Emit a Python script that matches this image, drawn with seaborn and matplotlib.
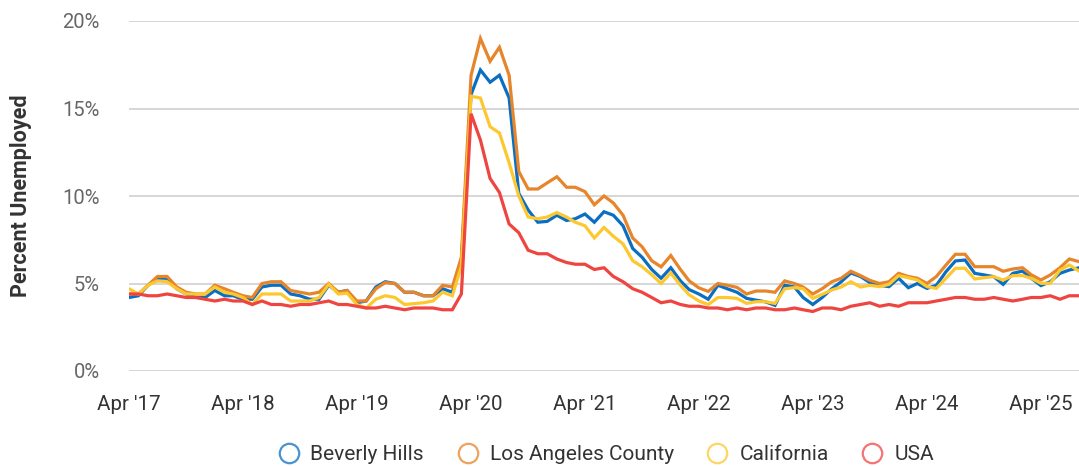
import pandas as pd
import numpy as np
import matplotlib
matplotlib.use("Agg")
import matplotlib.pyplot as plt
import matplotlib.dates as mdates
from matplotlib.lines import Line2D
from matplotlib.ticker import FuncFormatter, MultipleLocator
import seaborn as sns

# ── Data (monthly unemployment rate, %, Apr 2017 – Aug 2025) ─────────────────
MONTHS = pd.date_range("2017-04-01", periods=101, freq="MS")

BEVERLY_HILLS = [
    4.2, 4.3, 4.9, 5.3, 5.3, 4.7, 4.4, 4.2, 4.2,
    4.6, 4.3, 4.3, 4.1, 4.1, 4.8, 4.9, 4.9, 4.4, 4.3, 4.1, 4.1,
    4.9, 4.5, 4.6, 3.9, 4.0, 4.8, 5.1, 5.0, 4.5, 4.5, 4.3, 4.3,
    4.7, 4.5, 6.3, 15.8, 17.2, 16.5, 16.9, 15.6, 10.15, 9.2, 8.5, 8.55,
    8.9, 8.6, 8.7, 8.97, 8.5, 9.1, 8.9, 8.3, 7.0, 6.5, 5.8, 5.3,
    5.9, 5.15, 4.65, 4.4, 4.1, 4.9, 4.7, 4.5, 4.15, 4.05, 3.95, 3.75,
    4.9, 4.8, 4.2, 3.8, 4.2, 4.7, 5.1, 5.6, 5.4, 5.05, 4.9, 4.82,
    5.3, 4.76, 5.0, 4.72, 4.9, 5.68, 6.29, 6.34, 5.58, 5.49, 5.39, 4.95,
    5.58, 5.71, 5.3, 4.88, 5.1, 5.58, 5.77, 5.9,
]
LA_COUNTY = [
    4.4, 4.4, 4.9, 5.4, 5.4, 4.8, 4.5, 4.4, 4.4,
    4.9, 4.7, 4.5, 4.3, 4.2, 5.0, 5.1, 5.1, 4.6, 4.5, 4.4, 4.5,
    5.0, 4.5, 4.6, 4.0, 4.0, 4.7, 5.05, 5.0, 4.5, 4.5, 4.3, 4.3,
    4.9, 4.8, 6.5, 16.9, 19.0, 17.7, 18.5, 16.9, 11.4, 10.4, 10.4, 10.75,
    11.1, 10.5, 10.5, 10.25, 9.5, 10.0, 9.6, 8.9, 7.6, 7.1, 6.3, 5.95,
    6.6, 5.8, 5.15, 4.75, 4.55, 5.0, 4.9, 4.78, 4.4, 4.57, 4.57, 4.5,
    5.15, 5.0, 4.8, 4.4, 4.7, 5.1, 5.3, 5.7, 5.45, 5.18, 5.0, 5.1,
    5.58, 5.4, 5.3, 5.0, 5.4, 6.06, 6.67, 6.67, 5.96, 5.96, 5.96, 5.7,
    5.83, 5.9, 5.5, 5.2, 5.49, 5.9, 6.4, 6.25,
]
CALIFORNIA = [
    4.7, 4.4, 4.9, 5.15, 5.1, 4.7, 4.4, 4.4, 4.4,
    4.8, 4.5, 4.4, 4.2, 3.8, 4.4, 4.4, 4.4, 4.0, 4.0, 4.0, 4.2,
    4.95, 4.4, 4.45, 3.8, 3.6, 4.1, 4.3, 4.2, 3.8, 3.85, 3.9, 4.0,
    4.5, 4.3, 6.0, 15.7, 15.6, 13.96, 13.6, 11.9, 10.0, 8.8, 8.7, 8.8,
    9.05, 8.8, 8.5, 8.3, 7.6, 8.2, 7.7, 7.26, 6.3, 5.96, 5.5, 5.0,
    5.6, 4.9, 4.35, 4.0, 3.8, 4.2, 4.2, 4.15, 3.86, 3.96, 3.96, 3.86,
    4.7, 4.76, 4.7, 4.15, 4.38, 4.63, 4.8, 5.1, 4.8, 4.9, 4.82, 4.95,
    5.45, 5.33, 5.2, 4.82, 4.72, 5.3, 5.87, 5.87, 5.26, 5.33, 5.39, 5.2,
    5.45, 5.45, 5.3, 5.01, 5.01, 5.77, 6.06, 5.71,
]
USA = [
    4.4, 4.4, 4.3, 4.3, 4.4, 4.3, 4.2, 4.2, 4.1,
    4.0, 4.1, 4.0, 4.0, 3.8, 4.0, 3.8, 3.8, 3.7, 3.8, 3.8, 3.9,
    4.0, 3.8, 3.8, 3.7, 3.6, 3.6, 3.7, 3.6, 3.5, 3.6, 3.6, 3.6,
    3.5, 3.5, 4.4, 14.7, 13.2, 11.0, 10.2, 8.4, 7.9, 6.9, 6.7, 6.7,
    6.4, 6.2, 6.1, 6.1, 5.8, 5.9, 5.4, 5.1, 4.7, 4.5, 4.2, 3.9,
    4.0, 3.8, 3.7, 3.7, 3.6, 3.6, 3.5, 3.6, 3.5, 3.6, 3.6, 3.5,
    3.5, 3.6, 3.5, 3.4, 3.6, 3.6, 3.5, 3.7, 3.8, 3.9, 3.7, 3.8,
    3.7, 3.9, 3.9, 3.9, 4.0, 4.1, 4.2, 4.2, 4.1, 4.1, 4.2, 4.1,
    4.0, 4.1, 4.2, 4.2, 4.3, 4.1, 4.3, 4.3,
]

SERIES = ["Beverly Hills", "Los Angeles County", "California", "USA"]
COLORS = ["#0a6fc2", "#e6852a", "#fdc82f", "#ef4540"]
TEXT = "#333333"

df = pd.DataFrame({"month": MONTHS,
                   "Beverly Hills": BEVERLY_HILLS,
                   "Los Angeles County": LA_COUNTY,
                   "California": CALIFORNIA,
                   "USA": USA})
long_df = df.melt(id_vars="month", var_name="area", value_name="rate")

# ── Style ────────────────────────────────────────────────────────────────────
sns.set_theme(style="white")
plt.rcParams["font.family"] = ["Roboto", "DejaVu Sans"]

fig = plt.figure(figsize=(10.79, 4.66), dpi=100, facecolor="white")
ax = fig.add_axes([129 / 1079, 1 - 371 / 466, 950 / 1079, 350 / 466])

sns.lineplot(data=long_df, x="month", y="rate", hue="area",
             hue_order=SERIES, palette=COLORS, linewidth=2.3,
             legend=False, ax=ax)
for ln in ax.lines:
    ln.set_solid_joinstyle("miter")

ax.set_xlim(MONTHS[0], MONTHS[-1])
ax.set_ylim(0, 20)
ax.yaxis.set_major_locator(MultipleLocator(5))
ax.yaxis.set_major_formatter(FuncFormatter(lambda v, _: f"{v:.0f}%"))
ax.xaxis.set_major_locator(mdates.MonthLocator(bymonth=4))
ax.xaxis.set_major_formatter(mdates.DateFormatter("Apr '%y"))

ax.grid(axis="y", color="#cccccc", linewidth=1.1)
ax.grid(axis="x", visible=False)
ax.set_axisbelow(True)
sns.despine(ax=ax, left=True, bottom=True)

ax.tick_params(axis="y", length=0, pad=21, labelsize=14.5, labelcolor="#666666")
ax.tick_params(axis="x", length=0, pad=17, labelsize=14.8, labelcolor=TEXT)

ax.set_xlabel("")
ax.set_ylabel("Percent Unemployed", fontsize=15.5, fontweight="bold", color=TEXT)
ax.yaxis.set_label_coords(-0.1025, 0.5)

# ── Legend with hollow circles ───────────────────────────────────────────────
handles = [Line2D([0], [0], linestyle="none", marker="o", markersize=14,
                  markerfacecolor="none", markeredgewidth=1.6,
                  markeredgecolor=c, alpha=0.75) for c in COLORS]
fig.legend(handles, SERIES, loc="center", bbox_to_anchor=(606 / 1079, 1 - 455 / 466),
           ncol=4, frameon=False, fontsize=15, labelcolor=TEXT,
           handlelength=1.0, handletextpad=0.55, columnspacing=1.6)

plt.savefig("out.png", dpi=100, facecolor="white")
plt.close()
